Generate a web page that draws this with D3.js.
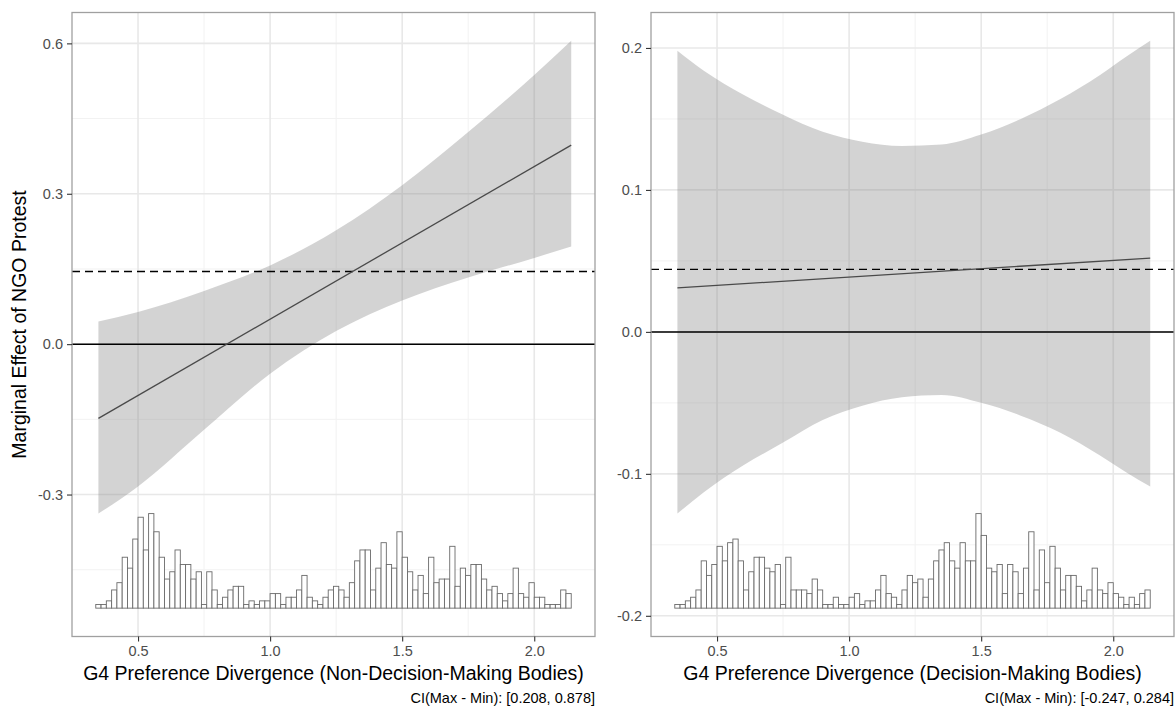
<!DOCTYPE html>
<html>
<head>
<meta charset="utf-8">
<script src="https://cdn.jsdelivr.net/npm/d3@7"></script>
<style>
body { margin: 0; background: #fff; }
text { font-family: "Liberation Sans", Arial, Helvetica, sans-serif; }
</style>
</head>
<body>
<svg width="1176" height="708"></svg>
<script>
// ---- data ----
// histogram bins: 0.34 .. 2.14, width 0.02
var binStart = 0.34;
var binWidth = 0.02;

var countsNDM = [1,1,2,5,7,14,11,19,25,16,
                 26,21,14,8,10,16,12,12,8,10,
                 1,10,5,1,3,5,6,6,1,2,
                 1,2,2,4,4,1,3,3,5,9,
                 3,2,1,3,5,6,5,3,7,13,
                 16,16,5,11,18,12,11,21,14,10,
                 5,9,4,14,7,8,8,17,6,11,
                 9,12,12,8,5,6,4,2,4,11,
                 4,3,7,3,3,1,1,1,5,4];

var countsDM = [1,1,2,3,5,13,9,12,17,13,
                18,19,13,5,10,14,14,11,10,12,
                1,14,5,5,5,4,8,5,1,1,
                3,1,1,3,4,1,2,2,5,9,
                4,3,1,5,9,7,8,3,8,13,
                16,18,13,11,18,13,13,26,20,11,
                10,12,4,12,10,4,11,21,5,16,
                7,17,11,5,9,9,6,2,5,11,
                5,4,7,4,3,1,3,1,4,5];

// confidence band + marginal effect line, left panel (non-decision-making bodies)
var bandXNDM  = [0.35, 0.5, 0.75, 1.0, 1.25, 1.5, 1.75, 2.0, 2.14];
var upperNDM  = [0.045, 0.064, 0.106, 0.157, 0.227, 0.317, 0.423, 0.537, 0.605];
var lowerNDM  = [-0.338, -0.284, -0.171, -0.059, 0.026, 0.087, 0.133, 0.172, 0.195];
var lineXNDM  = [0.35, 2.14];
var lineYNDM  = [-0.148, 0.397];
var refNDM    = 0.145;

// right panel (decision-making bodies)
var bandXDM = [0.35, 0.45, 0.6, 0.75, 0.9, 1.05, 1.2, 1.35, 1.5, 1.65, 1.8, 1.95, 2.05, 2.14];
var upperDM = [0.198, 0.184, 0.167, 0.153, 0.141, 0.134, 0.131, 0.132, 0.139, 0.150, 0.164, 0.181, 0.194, 0.205];
var lowerDM = [-0.128, -0.113, -0.094, -0.078, -0.062, -0.052, -0.046, -0.0445, -0.050, -0.059, -0.071, -0.087, -0.099, -0.109];
var lineXDM = [0.35, 2.14];
var lineYDM = [0.031, 0.052];
var refDM   = 0.044;

var xTicks = [0.5, 1.0, 1.5, 2.0];
var yTicksNDM = [-0.3, 0.0, 0.3, 0.6];
var yTicksDM = [-0.2, -0.1, 0.0, 0.1, 0.2];

var xTitles = ["G4 Preference Divergence (Non-Decision-Making Bodies)",
               "G4 Preference Divergence (Decision-Making Bodies)"];
var captions = ["CI(Max - Min): [0.208, 0.878]", "CI(Max - Min): [-0.247, 0.284]"];
var yTitle = "Marginal Effect of NGO Protest";

// ---- layout ----
var plotTop = 12.5, plotBottom = 636.5;
var panelW = 523;
var panelLefts = [72, 651];

var svg = d3.select('svg');
svg.append('rect').attr('width', 1176).attr('height', 708).attr('fill', '#fff');

var panels = [
  {counts: countsNDM, bx: bandXNDM, up: upperNDM, lo: lowerNDM, lx: lineXNDM, ly: lineYNDM,
   ref: refNDM, yTicks: yTicksNDM, title: xTitles[0], cap: captions[0]},
  {counts: countsDM, bx: bandXDM, up: upperDM, lo: lowerDM, lx: lineXDM, ly: lineYDM,
   ref: refDM, yTicks: yTicksDM, title: xTitles[1], cap: captions[1]}
];

panels.forEach(function(p, k) {
  var left = panelLefts[k];
  var g = svg.append('g').attr('transform', 'translate(' + left + ',0)');

  var nb = p.counts.length;
  var xMin = binStart, xMax = binStart + nb * binWidth;
  var xPad = (xMax - xMin) * 0.05;
  var x = d3.scaleLinear().domain([xMin - xPad, xMax + xPad]).range([0, panelW]);

  // histogram sits under the band, 20% of the band's range tall
  var bandMin = d3.min(p.lo), bandMax = d3.max(p.up);
  var histTop = bandMin;
  var histBase = bandMin - 0.2 * (bandMax - bandMin);
  var yPad = (bandMax - histBase) * 0.05;
  var y = d3.scaleLinear().domain([histBase - yPad, bandMax + yPad]).range([plotBottom, plotTop]);
  var h = d3.scaleLinear().domain([0, d3.max(p.counts)]).range([histBase, histTop]);

  // grid
  var ext = x.domain(), yext = y.domain();
  var step = p.yTicks[1] - p.yTicks[0];
  var xMinor = [0.25, 0.75, 1.25, 1.75, 2.25].filter(function(v){ return v > ext[0] && v < ext[1]; });
  var yMinor = [];
  p.yTicks.forEach(function(v){ yMinor.push(v - step / 2); });
  yMinor.push(p.yTicks[p.yTicks.length - 1] + step / 2);
  yMinor = yMinor.filter(function(v){ return v > yext[0] && v < yext[1]; });

  g.selectAll('.vminor').data(xMinor).enter().append('line')
    .attr('x1', d=>x(d)).attr('x2', d=>x(d)).attr('y1', plotTop).attr('y2', plotBottom)
    .attr('stroke', '#f2f2f2').attr('stroke-width', 1);
  g.selectAll('.hminor').data(yMinor).enter().append('line')
    .attr('x1', 0).attr('x2', panelW).attr('y1', d=>y(d)).attr('y2', d=>y(d))
    .attr('stroke', '#f2f2f2').attr('stroke-width', 1);
  g.selectAll('.vmajor').data(xTicks).enter().append('line')
    .attr('x1', d=>x(d)).attr('x2', d=>x(d)).attr('y1', plotTop).attr('y2', plotBottom)
    .attr('stroke', '#e8e8e8').attr('stroke-width', 1.6);
  g.selectAll('.hmajor').data(p.yTicks).enter().append('line')
    .attr('x1', 0).attr('x2', panelW).attr('y1', d=>y(d)).attr('y2', d=>y(d))
    .attr('stroke', '#e8e8e8').attr('stroke-width', 1.6);

  // confidence band
  var bandPts = p.bx.map(function(v, i){ return {x: v, lo: p.lo[i], up: p.up[i]}; });
  var area = d3.area().x(d=>x(d.x)).y0(d=>y(d.lo)).y1(d=>y(d.up)).curve(d3.curveMonotoneX);
  g.append('path').datum(bandPts).attr('d', area)
    .attr('fill', '#808080').attr('fill-opacity', 0.35);

  // histogram
  g.selectAll('.bar').data(p.counts).enter().append('rect')
    .attr('x', (d, i)=>x(binStart + i * binWidth))
    .attr('width', (d, i)=>x(binStart + (i + 1) * binWidth) - x(binStart + i * binWidth))
    .attr('y', d=>y(h(d)))
    .attr('height', d=>y(histBase) - y(h(d)))
    .attr('fill', '#fff').attr('stroke', '#6a6a6a').attr('stroke-width', 0.9);

  // zero and reference lines
  g.append('line').attr('x1', 0).attr('x2', panelW).attr('y1', y(0)).attr('y2', y(0))
    .attr('stroke', '#000').attr('stroke-width', 1.5);
  g.append('line').attr('x1', 0).attr('x2', panelW).attr('y1', y(p.ref)).attr('y2', y(p.ref))
    .attr('stroke', '#000').attr('stroke-width', 1.4).attr('stroke-dasharray', '8,5');

  // marginal effect line
  var linePts = p.lx.map(function(v, i){ return [v, p.ly[i]]; });
  g.append('path').datum(linePts)
    .attr('d', d3.line().x(d=>x(d[0])).y(d=>y(d[1])))
    .attr('fill', 'none').attr('stroke', '#4a4a4a').attr('stroke-width', 1.3);

  // border
  g.append('rect').attr('x', 0).attr('y', plotTop).attr('width', panelW).attr('height', plotBottom - plotTop)
    .attr('fill', 'none').attr('stroke', '#a0a0a0').attr('stroke-width', 1.3);

  // axes
  var fmt = function(d){ return d.toFixed(1); };
  var xAxisGroup = g.append('g').attr('transform', 'translate(0,' + plotBottom + ')')
    .call(d3.axisBottom(x).tickValues(xTicks).tickFormat(fmt).tickSize(5).tickPadding(4));
  var yAxisGroup = g.append('g')
    .call(d3.axisLeft(y).tickValues(p.yTicks).tickFormat(fmt).tickSize(5).tickPadding(4));
  [xAxisGroup, yAxisGroup].forEach(function(a){
    a.select('.domain').remove();
    a.selectAll('line').attr('stroke', '#333').attr('stroke-width', 1.1);
    a.selectAll('text').attr('fill', '#4d4d4d').style('font-size', '14.5px')
      .style('font-family', '"Liberation Sans", Arial, sans-serif');
  });

  // titles
  g.append('text').attr('x', panelW / 2).attr('y', 680).attr('text-anchor', 'middle')
    .style('font-size', '19.5px').attr('fill', '#000').text(p.title);
  g.append('text').attr('x', panelW).attr('y', 703).attr('text-anchor', 'end')
    .style('font-size', '14.5px').attr('fill', '#000').text(p.cap);
});

svg.append('text')
  .attr('transform', 'translate(26,' + ((plotTop + plotBottom) / 2) + ') rotate(-90)')
  .attr('text-anchor', 'middle').style('font-size', '19.5px').attr('fill', '#000')
  .text(yTitle);
</script>
</body>
</html>
